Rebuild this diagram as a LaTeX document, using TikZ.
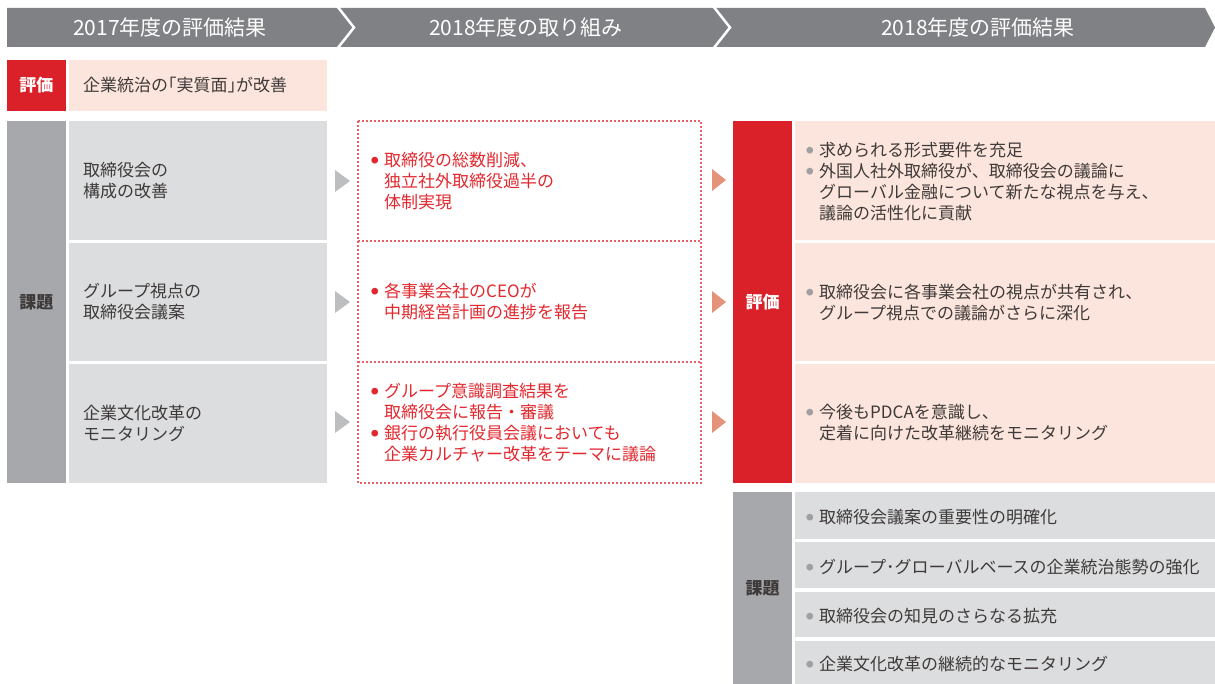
\documentclass[tikz,border=0pt]{standalone}
\usepackage{fontspec}
\setmainfont{Noto Sans CJK JP}
\definecolor{hdgray}{RGB}{128,129,133}
\definecolor{evred}{RGB}{218,32,40}
\definecolor{evpink}{RGB}{252,229,220}
\definecolor{cellgray}{RGB}{220,221,223}
\definecolor{colgray}{RGB}{167,168,171}
\definecolor{trigray}{RGB}{189,190,192}
\definecolor{trisalmon}{RGB}{228,146,122}
\definecolor{dashred}{RGB}{232,96,104}
\definecolor{txtred}{RGB}{226,40,46}
\definecolor{txtdark}{RGB}{62,58,57}
\definecolor{bulgray}{RGB}{160,160,162}
\tikzstyle{hd}=[fill=hdgray,draw=none]
\tikzstyle{hdtext}=[text=white,font=\fontsize{21}{24}\selectfont]
\tikzstyle{ev}=[fill=evred,draw=none]
\tikzstyle{evcell}=[fill=evpink,draw=none]
\tikzstyle{kd}=[fill=colgray,draw=none]
\tikzstyle{cell}=[fill=cellgray,draw=none]
\tikzstyle{plan}=[draw=dashred,line width=1.1pt,dash pattern=on 2pt off 2pt]
\tikzstyle{lab}=[font=\bfseries\fontsize{17}{21}\selectfont]
\tikzstyle{body}=[anchor=west,align=left,inner sep=0pt,text=txtdark,font=\fontsize{17}{21}\selectfont]
\tikzstyle{redbody}=[body,text=txtred]
\newcommand{\bul}[1]{\makebox[13pt][l]{\raisebox{3.2pt}{\textcolor{#1}{\fontsize{7.5}{8}\selectfont ●}}}}
\newcommand{\ind}{\hspace*{13pt}}

\begin{document}
\begin{tikzpicture}[x=1pt,y=-1pt]
\useasboundingbox (0,0) rectangle (1215,684);
\fill[hd] (7,8) -- (1205,8) -- (1215,27.5) -- (1205,47) -- (7,47) -- cycle;
\draw[white,line width=2.5pt] (337,6) -- (354,27.5) -- (337,49);
\draw[white,line width=2.5pt] (713,6) -- (730,27.5) -- (713,49);
\node[hdtext] (h1) at (170,27.5) {2017年度の評価結果};
\node[hdtext] (h2) at (526,27.5) {2018年度の取り組み};
\node[hdtext] (h3) at (978,27.5) {2018年度の評価結果};
\fill[ev] (7,60) rectangle (66,111);
\fill[evcell] (69,60) rectangle (327,111);
\node[lab,text=white] (e0) at (36.5,85.5) {評価};
\node[body] (e0t) at (83,85.5) {企業統治の｢実質面｣が改善};
\fill[kd] (7,121) rectangle (66,483);
\node[lab,text=txtdark] (k0) at (36.5,302) {課題};
\fill[cell] (69,121) rectangle (327,240);
\fill[cell] (69,243) rectangle (327,361);
\fill[cell] (69,364) rectangle (327,483);
\node[body] (k1) at (83,181) {取締役会の\\構成の改善};
\node[body] (k2) at (83,302) {グループ視点の\\取締役会議案};
\node[body] (k3) at (83,423) {企業文化改革の\\モニタリング};
\fill[trigray] (335,170) -- (350,181) -- (335,192) -- cycle;
\fill[trigray] (335,291) -- (350,302) -- (335,313) -- cycle;
\fill[trigray] (335,411) -- (350,422) -- (335,433) -- cycle;
\draw[plan] (358,121) rectangle (701,483);
\draw[plan] (358,241) -- (701,241);
\draw[plan] (358,362) -- (701,362);
\node[redbody] (p1) at (371,181) {\bul{txtred}取締役の総数削減、\\\ind 独立社外取締役過半の\\\ind 体制実現};
\node[redbody] (p2) at (371,302) {\bul{txtred}各事業会社のCEOが\\\ind 中期経営計画の進捗を報告};
\node[redbody] (p3) at (371,422.5) {\bul{txtred}グループ意識調査結果を\\\ind 取締役会に報告・審議\\\bul{txtred}銀行の執行役員会議においても\\\ind 企業カルチャー改革をテーマに議論};
\fill[trisalmon] (712,169) -- (726,180) -- (712,191) -- cycle;
\fill[trisalmon] (712,291) -- (726,302) -- (712,313) -- cycle;
\fill[trisalmon] (712,411) -- (726,422) -- (712,433) -- cycle;
\fill[ev] (733,121) rectangle (792,483);
\node[lab,text=white] (e1) at (762.5,302) {評価};
\fill[evcell] (795,121) rectangle (1215,240);
\fill[evcell] (795,243) rectangle (1215,361);
\fill[evcell] (795,364) rectangle (1215,483);
\node[body] (r1) at (806,182) {\bul{bulgray}求められる形式要件を充足\\\bul{bulgray}外国人社外取締役が、取締役会の議論に\\\ind グローバル金融について新たな視点を与え、\\\ind 議論の活性化に貢献};
\node[body] (r2) at (806,302.5) {\bul{bulgray}取締役会に各事業会社の視点が共有され、\\\ind グループ視点での議論がさらに深化};
\node[body] (r3) at (806,422.5) {\bul{bulgray}今後もPDCAを意識し、\\\ind 定着に向けた改革継続をモニタリング};
\fill[kd] (733,492) rectangle (792,684);
\node[lab,text=txtdark] (k4) at (762.5,588) {課題};
\fill[cell] (795,492) rectangle (1215,539);
\fill[cell] (795,542) rectangle (1215,588);
\fill[cell] (795,592) rectangle (1215,637);
\fill[cell] (795,641) rectangle (1215,684);
\node[body] (s1) at (806,517) {\bul{bulgray}取締役会議案の重要性の明確化};
\node[body] (s2) at (806,567) {\bul{bulgray}グループ･グローバルベースの企業統治態勢の強化};
\node[body] (s3) at (806,616.5) {\bul{bulgray}取締役会の知見のさらなる拡充};
\node[body] (s4) at (806,664) {\bul{bulgray}企業文化改革の継続的なモニタリング};
\end{tikzpicture}
\end{document}
